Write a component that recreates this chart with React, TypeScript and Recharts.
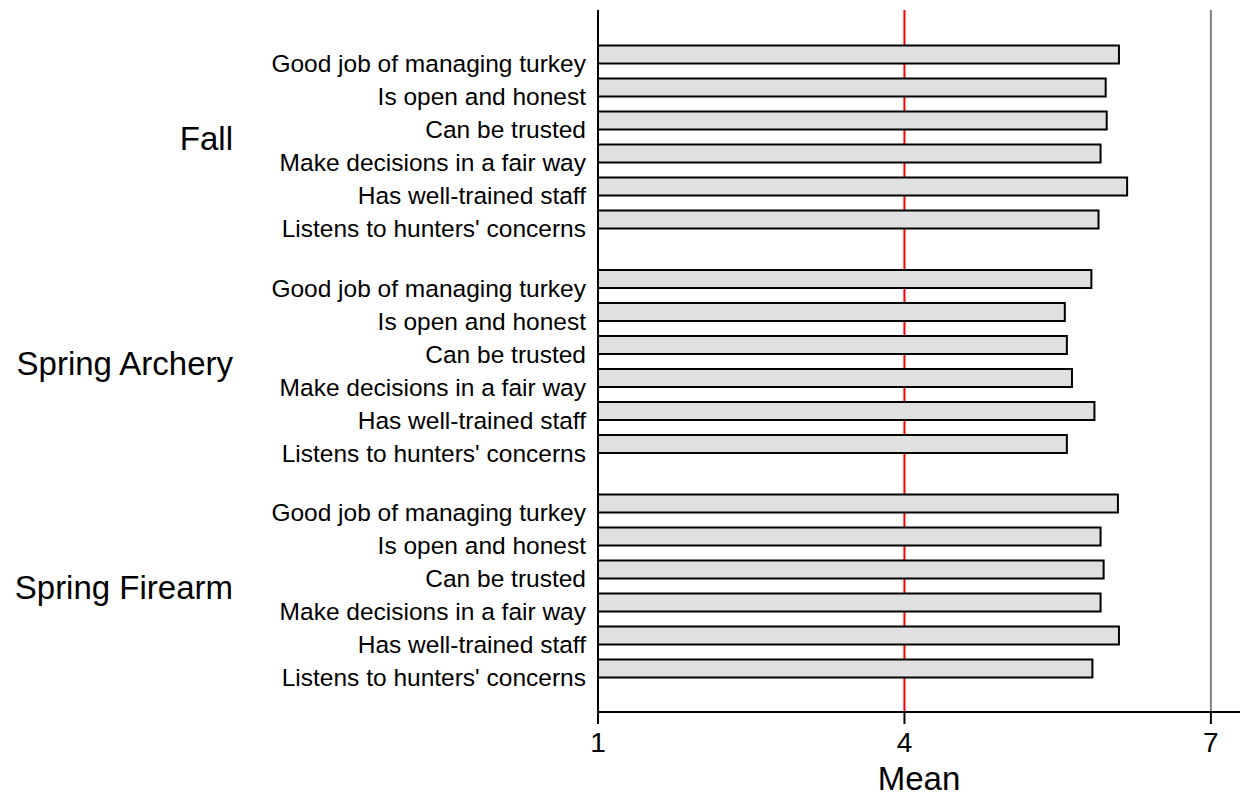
import React from "react";
import { BarChart, Bar, XAxis, YAxis, ReferenceLine } from "recharts";

const items = [
  "Good job of managing turkey",
  "Is open and honest",
  "Can be trusted",
  "Make decisions in a fair way",
  "Has well-trained staff",
  "Listens to hunters' concerns",
];
const groups = ["Fall", "Spring Archery", "Spring Firearm"];
const fallMeans = [6.1, 5.97, 5.98, 5.92, 6.18, 5.9];
const archeryMeans = [5.83, 5.57, 5.59, 5.64, 5.86, 5.59];
const firearmMeans = [6.09, 5.92, 5.95, 5.92, 6.1, 5.84];
const xTicks = [1, 4, 7];

const groupValues = [fallMeans, archeryMeans, firearmMeans];
const GROUP_STEP = 6.8;

const data = groupValues.flatMap((vals, g) =>
  vals.map((v, i) => ({ pos: g * GROUP_STEP + i, label: items[i], mean: v }))
);
const itemTicks = data.map((d) => d.pos);
const labelByPos: Record<string, string> = {};
data.forEach((d) => (labelByPos[d.pos.toFixed(2)] = d.label));
const groupTicks = groups.map((_, g) => g * GROUP_STEP + 2.5);
const groupByPos: Record<string, string> = {};
groups.forEach((name, g) => (groupByPos[(g * GROUP_STEP + 2.5).toFixed(2)] = name));

const FONT = "Liberation Sans, Arial, sans-serif";

const ItemTick = (props: any) => {
  const { x, y, payload } = props;
  return (
    <text x={x} y={y + 9.5} dy="0.355em" textAnchor="end" fontSize={24.5} fontFamily={FONT} fill="#000">
      {labelByPos[Number(payload.value).toFixed(2)]}
    </text>
  );
};

const GroupTick = (props: any) => {
  const { x, y, payload } = props;
  return (
    <text x={x} y={y + 2.2} dy="0.355em" textAnchor="end" fontSize={33} fontFamily={FONT} fill="#000">
      {groupByPos[Number(payload.value).toFixed(2)]}
    </text>
  );
};

const XTick = (props: any) => {
  const { x, y, payload } = props;
  return (
    <text x={x} y={y} dy="0.71em" textAnchor="middle" fontSize={28} fontFamily={FONT} fill="#000">
      {payload.value}
    </text>
  );
};

const yDomain = [-1.333, 19.933];

export default function App() {
  const refLineProps: any = { zIndex: 50 };
  return (
    <div style={{ position: "absolute", left: 0, top: 0, background: "#fff" }}>
      <BarChart
        width={1241}
        height={798}
        data={data}
        layout="vertical"
        margin={{ top: 10, right: 1, bottom: 0, left: 0 }}
      >
        <XAxis
          type="number"
          dataKey="mean"
          domain={[1, 7.285]}
          ticks={xTicks}
          allowDataOverflow
          height={86}
          tickSize={12}
          tickMargin={8}
          tick={<XTick />}
          stroke="#000"
          axisLine={{ stroke: "#000", strokeWidth: 2 }}
          tickLine={{ stroke: "#000", strokeWidth: 2 }}
          label={{ value: "Mean", position: "insideBottom", offset: 8, fontSize: 33, fontFamily: FONT, fill: "#000" }}
        />
        <YAxis
          yAxisId="a"
          type="number"
          dataKey="pos"
          domain={yDomain}
          allowDataOverflow
          ticks={itemTicks}
          interval={0}
          width={348}
          tickSize={0}
          tickMargin={12}
          tickLine={false}
          axisLine={{ stroke: "#000", strokeWidth: 2 }}
          tick={<ItemTick />}
        />
        <YAxis
          yAxisId="b"
          type="number"
          dataKey="pos"
          domain={yDomain}
          allowDataOverflow
          ticks={groupTicks}
          interval={0}
          width={250}
          tickSize={0}
          tickMargin={17}
          tickLine={false}
          axisLine={false}
          tick={<GroupTick />}
        />
        <ReferenceLine yAxisId="a" x={7} stroke="#808080" strokeWidth={2} {...refLineProps} />
        <ReferenceLine yAxisId="a" x={4} stroke="#ff0000" strokeWidth={2} {...refLineProps} />
        <Bar
          yAxisId="a"
          dataKey="mean"
          barSize={18}
          fill="#e0e0e0"
          stroke="#000"
          strokeWidth={2}
          isAnimationActive={false}
        />
      </BarChart>
    </div>
  );
}
